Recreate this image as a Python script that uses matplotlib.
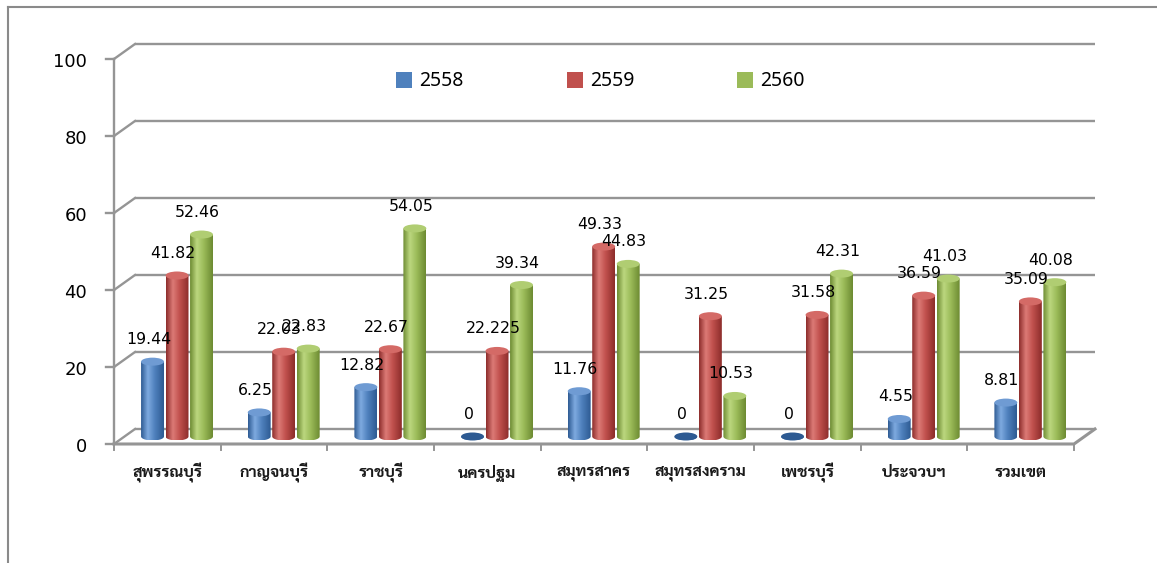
import matplotlib
matplotlib.use("Agg")
import numpy as np
import matplotlib.pyplot as plt
from matplotlib.colors import LinearSegmentedColormap
from matplotlib.patches import Ellipse, PathPatch, Rectangle
from matplotlib.path import Path
from matplotlib.lines import Line2D

# percent by province, three fiscal years
provinces = ['สุพรรณบุรี', 'กาญจนบุรี', 'ราชบุรี', 'นครปฐม', 'สมุทรสาคร',
             'สมุทรสงคราม', 'เพชรบุรี', 'ประจวบฯ', 'รวมเขต']
years = ['2558', '2559', '2560']
y2558 = [19.44, 6.25, 12.82, 0, 11.76, 0, 0, 4.55, 8.81]
y2559 = [41.82, 22.03, 22.67, 22.225, 49.33, 31.25, 31.58, 36.59, 35.09]
y2560 = [52.46, 22.83, 54.05, 39.34, 44.83, 10.53, 42.31, 41.03, 40.08]
yticks = [0, 20, 40, 60, 80, 100]

series = [y2558, y2559, y2560]
# (base, light, dark, top) per series
palette = [('#4f81bd', '#7eaae0', '#2d5a92', '#6f9bd3'),
           ('#c0504d', '#dc7a76', '#8c2c2a', '#d46a66'),
           ('#9bbb59', '#bcd77f', '#6c8a31', '#b0cd72')]

W, H = 1157, 563
fig = plt.figure(figsize=(W / 100, H / 100), dpi=100)

def fx(px):
    return px / W

def fy(py):
    return 1 - py / H

# front plane of the plot: x -0.5..8.5, y 0..100
left, right, y0px, y100px = 114, 1074, 444, 59
ax = fig.add_axes([fx(left), fy(y0px), (right - left) / W, (y0px - y100px) / H])
ax.set_xlim(-0.5, len(provinces) - 0.5)
ax.set_ylim(0, 100)
ax.axis('off')

ppx = (right - left) / len(provinces)      # pixels per category
ppy = (y0px - y100px) / 100.0              # pixels per unit
dx = 21 / ppx                              # depth offset
dy = 15 / ppy
gcol = '#959595'
n = len(provinces)

# back wall gridlines + side diagonals
for v in yticks:
    ax.plot([-0.5 + dx, n - 0.5 + dx], [v + dy, v + dy], color=gcol, lw=1.7,
            clip_on=False, zorder=1, solid_capstyle='butt')
    ax.plot([-0.5, -0.5 + dx], [v, v + dy], color=gcol, lw=1.7, clip_on=False, zorder=1)
    ax.plot([-0.5 - 8 / ppx, -0.5], [v, v], color=gcol, lw=1.7, clip_on=False, zorder=1)
    ax.text(-0.5 - 27 / ppx, v - 0.8, str(v), ha='right', va='center', fontsize=13,
            color='black', family='DejaVu Sans')

# front axis and floor
ax.plot([-0.5, -0.5], [0, 100], color=gcol, lw=1.7, clip_on=False, zorder=1)
ax.plot([-0.5, n - 0.5, n - 0.5 + dx], [0, 0, dy], color=gcol, lw=2.2,
        clip_on=False, zorder=1)
for k in range(n + 1):
    ax.plot([k - 0.5, k - 0.5], [0, -6 / ppy], color=gcol, lw=1.4, clip_on=False, zorder=1)

# cylinder bars
bw = 0.215
step = 24.5 / ppx
shift = 9.7 / ppx
eh = 8 / ppy
base = dy / 2
grad = np.linspace(0, 1, 256).reshape(1, -1)
for j, vals in enumerate(series):
    c, light, dark, topc = palette[j]
    cmap = LinearSegmentedColormap.from_list(
        'cyl%d' % j, [(0, dark), (0.3, light), (0.6, c), (1, dark)])
    for i, v in enumerate(vals):
        xc = i + shift + (j - 1) * step
        x0, x1 = xc - bw / 2, xc + bw / 2
        top = base + v
        t = np.linspace(np.pi, 2 * np.pi, 40)
        verts = [(x0, top)] + list(zip(xc + bw / 2 * np.cos(t), base + eh / 2 * np.sin(t))) \
            + [(x1, top), (x0, top)]
        codes = [Path.MOVETO] + [Path.LINETO] * (len(verts) - 2) + [Path.CLOSEPOLY]
        clip = PathPatch(Path(verts, codes), transform=ax.transData)
        im = ax.imshow(grad, cmap=cmap, extent=(x0, x1, base - eh / 2, top),
                       aspect='auto', interpolation='bilinear', zorder=3)
        im.set_clip_path(clip)
        ax.add_patch(Ellipse((xc, top), bw, eh, facecolor=topc if v > 0 else dark,
                             edgecolor='none', zorder=4))
        ax.text(xc - 4 / ppx, top + 22 / ppy, f'{v:g}', ha='center', va='center',
                fontsize=11.3, color='black', zorder=6)

# category labels
for i, name in enumerate(provinces):
    ax.text(i, -29 / ppy, name, ha='center', va='center', fontsize=11.5,
            family=['Sarabun', 'DejaVu Sans'], weight='bold', color='#1a1a1a')

ax.set_xlim(-0.5, n - 0.5)
ax.set_ylim(0, 100)

# legend
for j, yr in enumerate(years):
    sx = [396, 567, 737][j]
    fig.add_artist(Rectangle((fx(sx), fy(88)), 16 / W, 16 / H,
                             transform=fig.transFigure, facecolor=palette[j][0],
                             edgecolor='none'))
    fig.text(fx(sx + 23), fy(81), yr, ha='left', va='center', fontsize=14,
             family='Noto Sans', color='black')

# chart frame
fig.add_artist(Line2D([fx(8), 1], [fy(7), fy(7)], transform=fig.transFigure,
                      color='#8a8a8a', lw=1.5))
fig.add_artist(Line2D([fx(8), fx(8)], [fy(7), 0], transform=fig.transFigure,
                      color='#8a8a8a', lw=1.5))

fig.savefig('out.png', dpi=100)
